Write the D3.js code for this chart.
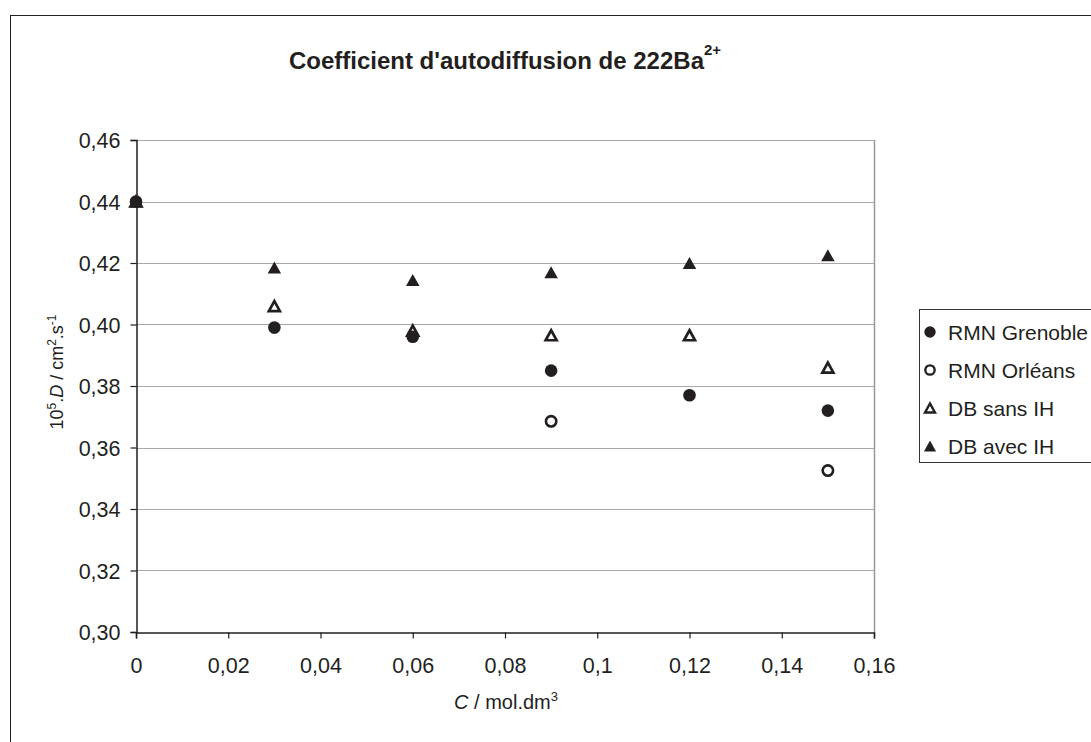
<!DOCTYPE html>
<html><head><meta charset="utf-8">
<script src="https://cdn.jsdelivr.net/npm/d3@7"></script>
<style>body{margin:0;background:#fff;}svg{display:block;font-family:"Liberation Sans",Arial,sans-serif;}</style>
</head><body>
<svg id="c" width="1091" height="742"></svg>
<script>
const concentrations = [0, 0.03, 0.06, 0.09, 0.12, 0.15];
const rmnGrenoble = [0.440, 0.399, 0.396, 0.385, 0.377, 0.372];
const rmnOrleans = [null, null, null, 0.3685, null, 0.3525];
const dbSansIH = [0.440, 0.406, 0.398, 0.3965, 0.3965, 0.386];
const dbAvecIH = [0.440, 0.4185, 0.4145, 0.417, 0.420, 0.4225];
const xTicks = [0, 0.02, 0.04, 0.06, 0.08, 0.1, 0.12, 0.14, 0.16];
const yTicks = [0.30, 0.32, 0.34, 0.36, 0.38, 0.40, 0.42, 0.44, 0.46];
const seriesNames = ["RMN Grenoble", "RMN Orléans", "DB sans IH", "DB avec IH"];

const svg = d3.select("#c");
const L = 136, R = 874, T = 140, B = 632;
const x = d3.scaleLinear().domain([0, 0.16]).range([L, R]);
const y = d3.scaleLinear().domain([0.30, 0.46]).range([B, T]);
const fmt = d => String(+d.toFixed(2)).replace(".", ",");
const fmtY = d => d.toFixed(2).replace(".", ",");
const ink = "#231f20";

// outer frame
svg.append("rect").attr("x", 10.5).attr("y", 15.5).attr("width", 1200).attr("height", 800)
  .attr("fill", "none").attr("stroke", "#222").attr("stroke-width", 1);

// title
const title = svg.append("text").attr("x", 505).attr("y", 69).attr("text-anchor", "middle")
  .attr("font-size", 24).attr("font-weight", "bold").attr("fill", ink);
title.append("tspan").text("Coefficient d'autodiffusion de 222Ba");
title.append("tspan").attr("dy", -14).attr("font-size", 15).text("2+");

// gridlines
svg.append("g").selectAll("line").data(yTicks.slice(1)).join("line")
  .attr("x1", L).attr("x2", R).attr("y1", d => Math.round(y(d)) + 0.5).attr("y2", d => Math.round(y(d)) + 0.5)
  .attr("stroke", "#a8a8a8").attr("stroke-width", 1.2);
// right border
svg.append("line").attr("x1", R + 0.5).attr("x2", R + 0.5).attr("y1", T).attr("y2", B)
  .attr("stroke", "#999").attr("stroke-width", 1.5);

// axes
const xAxis = svg.append("g").attr("transform", `translate(0,${B + 0.5})`)
  .call(d3.axisBottom(x).tickValues(xTicks).tickFormat(fmt).tickSize(6).tickPadding(19));
const yAxis = svg.append("g").attr("transform", `translate(${L + 0.5},0)`)
  .call(d3.axisLeft(y).tickValues(yTicks).tickFormat(fmtY).tickSize(6).tickPadding(10));
[xAxis, yAxis].forEach(a => {
  a.select(".domain").attr("stroke", ink).attr("stroke-width", 1.5);
  a.selectAll(".tick line").attr("stroke", ink).attr("stroke-width", 1.2);
  a.selectAll("text").attr("font-size", 21.5).attr("fill", ink)
    .attr("font-family", "'Liberation Sans',Arial,sans-serif");
});
yAxis.selectAll("text").attr("dy", "0.36em");

// axis labels
const xl = svg.append("text").attr("x", 506).attr("y", 709).attr("text-anchor", "middle")
  .attr("font-size", 20).attr("fill", ink);
xl.append("tspan").attr("font-style", "italic").text("C");
xl.append("tspan").text(" / mol.dm");
xl.append("tspan").attr("dy", -8).attr("font-size", 13).text("3");

const yl = svg.append("text").attr("transform", `translate(63,372) rotate(-90)`)
  .attr("text-anchor", "middle").attr("font-size", 18).attr("fill", ink);
yl.append("tspan").text("10");
yl.append("tspan").attr("dy", -7).attr("font-size", 12).text("5");
yl.append("tspan").attr("dy", 7).text(".");
yl.append("tspan").attr("font-style", "italic").text("D");
yl.append("tspan").text(" / cm");
yl.append("tspan").attr("dy", -7).attr("font-size", 12).text("2");
yl.append("tspan").attr("dy", 7).text(".s");
yl.append("tspan").attr("dy", -7).attr("font-size", 12).text("-1");

// marker shapes
const tri = (w, h) => `M0,${-h / 2}L${w / 2},${h / 2}L${-w / 2},${h / 2}Z`;
function drawMarker(g, type, s) {
  if (type === 0) g.append("circle").attr("r", 6.3 * s).attr("fill", ink);
  else if (type === 1) g.append("circle").attr("r", 5.2 * s).attr("fill", "#fff").attr("stroke", ink).attr("stroke-width", 2.6 * s);
  else if (type === 2) g.append("path").attr("d", tri(11 * s, 10 * s)).attr("fill", "#fff").attr("stroke", ink).attr("stroke-width", 2.7 * s).attr("stroke-linejoin", "miter");
  else g.append("path").attr("d", tri(13.5 * s, 12 * s)).attr("fill", ink);
}

const series = [rmnGrenoble, rmnOrleans, dbSansIH, dbAvecIH];
const drawOrder = [3, 2, 1, 0];
drawOrder.forEach(si => {
  const pts = concentrations.map((c, i) => ({ c, v: series[si][i] })).filter(p => p.v != null);
  const g = svg.append("g");
  pts.forEach(p => {
    const m = g.append("g").attr("transform", `translate(${x(p.c)},${y(p.v)})`);
    drawMarker(m, si, 1);
  });
});

// legend
const lg = svg.append("g");
lg.append("rect").attr("x", 919.5).attr("y", 309.5).attr("width", 200).attr("height", 153)
  .attr("fill", "#fff").attr("stroke", "#333").attr("stroke-width", 1);
const ly = [332, 370, 408, 446];
seriesNames.forEach((n, i) => {
  const m = lg.append("g").attr("transform", `translate(930,${ly[i]})`);
  drawMarker(m, i, 0.9);
  lg.append("text").attr("x", 948).attr("y", ly[i]).attr("dy", "0.36em")
    .attr("font-size", 21).attr("fill", ink).text(n);
});
</script>
</body></html>
